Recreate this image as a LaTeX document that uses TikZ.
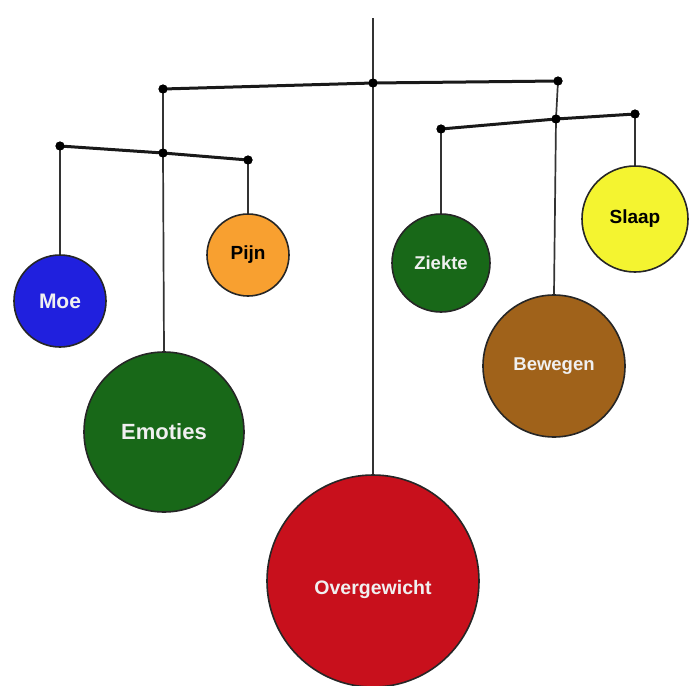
\documentclass[tikz,border=0pt]{standalone}
\usepackage{fontspec}
\setmainfont{Liberation Sans}
\definecolor{cBlue}{RGB}{32,32,222}
\definecolor{cOrange}{RGB}{248,160,48}
\definecolor{cGreen}{RGB}{24,104,24}
\definecolor{cYellow}{RGB}{244,244,48}
\definecolor{cBrown}{RGB}{160,98,26}
\definecolor{cRed}{RGB}{200,16,28}
\definecolor{cText}{RGB}{240,240,240}
\begin{document}
\begin{tikzpicture}[x=1pt,y=-1pt,
  ball/.style={circle,draw=black!85,line width=1.6pt,inner sep=0pt,font=\bfseries},
  joint/.style={circle,fill=black,inner sep=0pt,minimum size=9pt},
  bar/.style={line width=3pt,black!90},
  string/.style={line width=1.7pt,black!80}]
\useasboundingbox (0,0) rectangle (689,686);
% balls
\node[ball,fill=cBlue,minimum size=92pt,text=cText,font=\bfseries\fontsize{21}{21}\selectfont] (moe) at (60,301) {Moe};
\node[ball,fill=cOrange,minimum size=82pt,font=\bfseries\fontsize{19}{19}\selectfont] (pijn) at (248,255) {Pijn};
\node[ball,fill=cGreen,minimum size=160pt,text=cText,font=\bfseries\fontsize{22}{22}\selectfont] (emoties) at (164,432) {Emoties};
\node[ball,fill=cRed,minimum size=212pt,text=cText,font=\bfseries\fontsize{19.5}{19.5}\selectfont] (over) at (373,581) {\raisebox{-13pt}[0pt][0pt]{Overgewicht}};
\node[ball,fill=cGreen,minimum size=98pt,text=cText,font=\bfseries\fontsize{18.5}{18.5}\selectfont] (ziekte) at (441,263) {Ziekte};
\node[ball,fill=cYellow,minimum size=106pt,font=\bfseries\fontsize{19}{19}\selectfont] (slaap) at (635,219) {Slaap};
\node[ball,fill=cBrown,minimum size=142pt,text=cText,font=\bfseries\fontsize{18.5}{18.5}\selectfont] (bewegen) at (554,366) {Bewegen};
% joints
\coordinate (top) at (373,18);
\node[joint] (pT) at (373,83) {};
\node[joint] (tl) at (163,89) {};
\node[joint] (tr) at (558,81) {};
\node[joint] (pL) at (163,153) {};
\node[joint] (lL) at (60,146) {};
\node[joint] (lR) at (248,160) {};
\node[joint] (pR) at (556,119) {};
\node[joint] (rL) at (441,129) {};
\node[joint] (rR) at (635,114) {};
% strings
\draw[string] (top) -- (pT.center) -- (over.north);
\draw[string] (tl.center) -- (pL.center) -- (emoties.north);
\draw[string] (tr.center) -- (pR.center) -- (bewegen.north);
\draw[string] (lL.center) -- (moe.north);
\draw[string] (lR.center) -- (pijn.north);
\draw[string] (rL.center) -- (ziekte.north);
\draw[string] (rR.center) -- (slaap.north);
% bars
\draw[bar] (tl.center) -- (pT.center) -- (tr.center);
\draw[bar] (lL.center) -- (pL.center) -- (lR.center);
\draw[bar] (rL.center) -- (pR.center) -- (rR.center);
% redraw joints on top
\foreach \j in {pT,tl,tr,pL,lL,lR,pR,rL,rR} \fill (\j) circle (4.5pt);
\end{tikzpicture}
\end{document}
